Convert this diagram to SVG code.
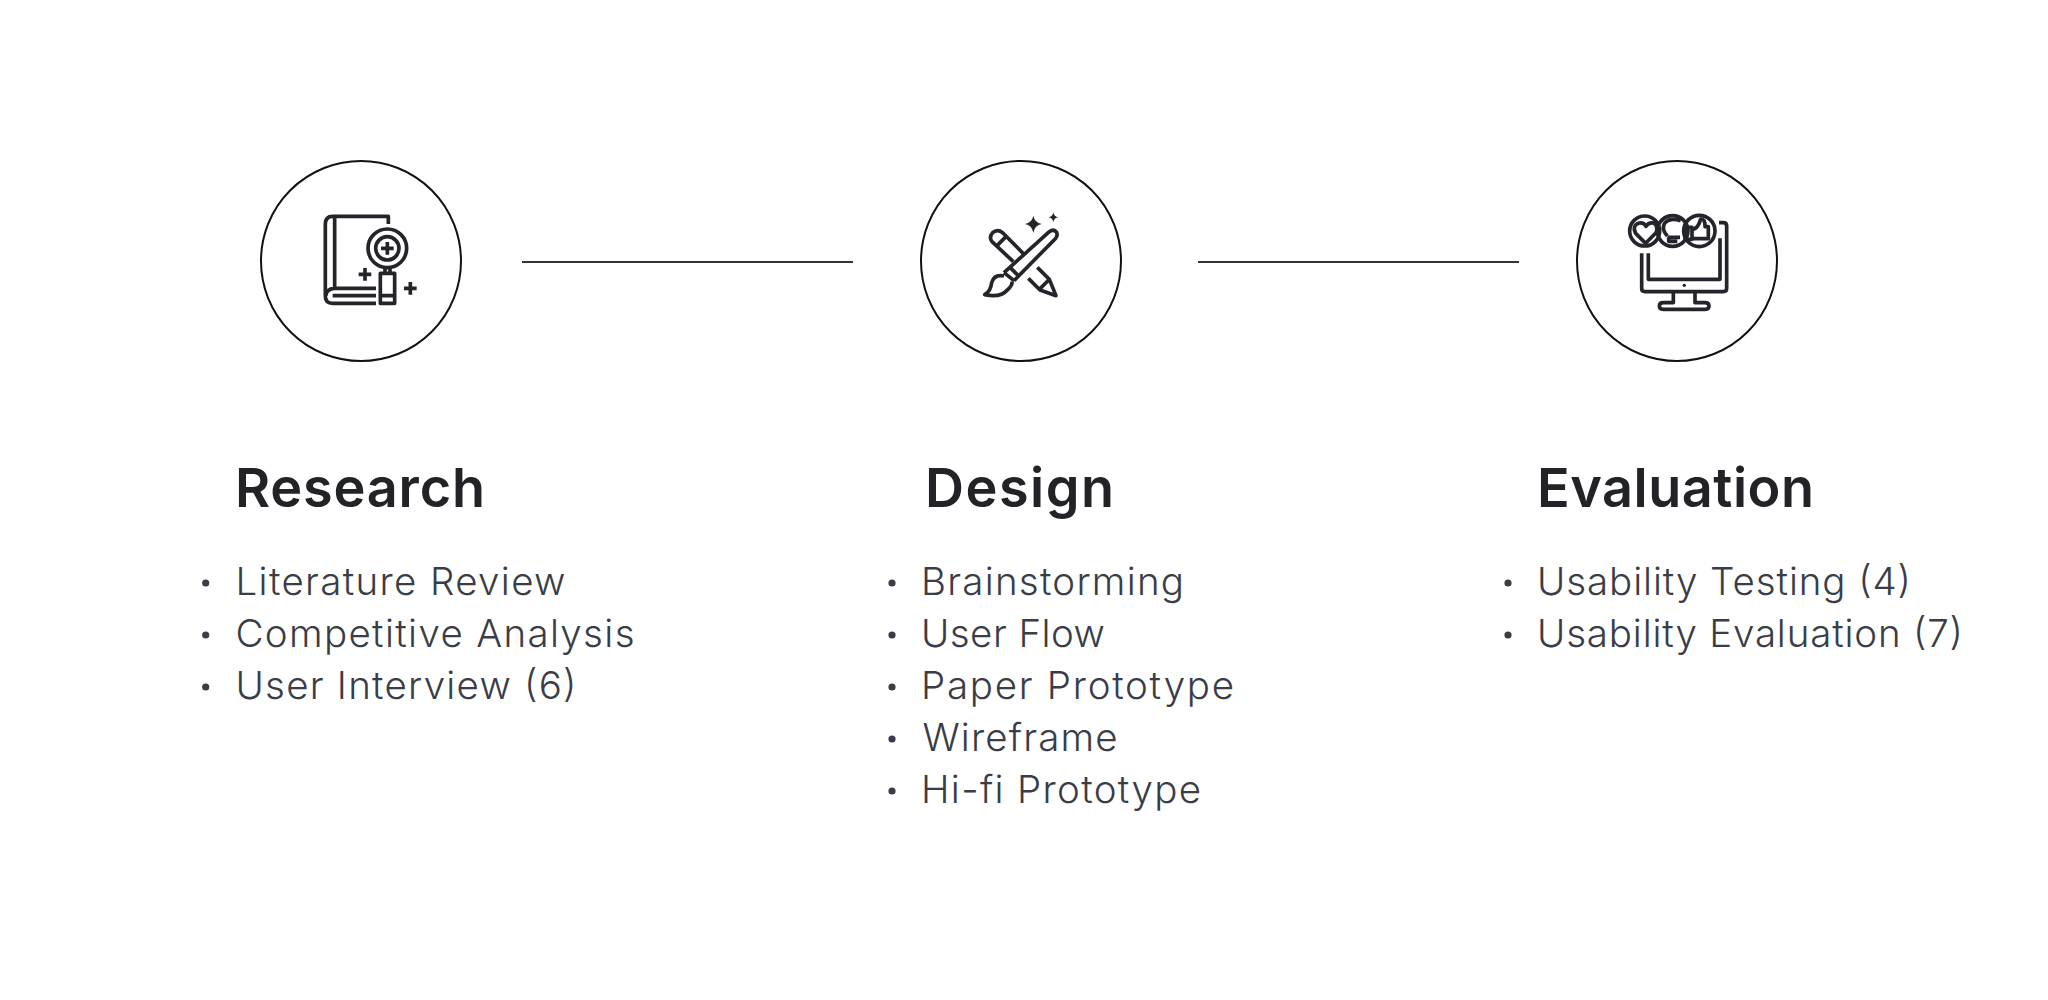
<svg xmlns="http://www.w3.org/2000/svg" width="2048" height="1000" viewBox="0 0 2048 1000">
<style>
.ring{fill:#fff;stroke:#111;stroke-width:2}
.ic{fill:none;stroke:#23252a;stroke-width:11;stroke-linejoin:round}
.icf{fill:#23252a;stroke:none}
.h{font-family:"Inter","Liberation Sans",sans-serif;font-weight:600;font-size:54px;fill:#212327}
.b{font-family:"Inter","Liberation Sans",sans-serif;font-weight:300;font-size:38.5px;fill:#3a3d46}
.dot{fill:#3a3d46}
.conn{stroke:#333338;stroke-width:2;fill:none}
</style>
<rect width="2048" height="1000" fill="#fff"/>
<g id="connectors">
<line class="conn" x1="522" y1="262" x2="853" y2="262"/>
<line class="conn" x1="1198" y1="262" x2="1519" y2="262"/>
</g>
<g id="research">
<circle class="ring" cx="361" cy="261" r="100"/>
<g transform="translate(250 150) scale(.33333)">
<path class="ic" d="M415 222V199H248Q226 199 226 222V438Q226 460 248 460H378M254 199V415M378 415H254Q228 417 228 437M378 437H248"/>
<circle class="ic" cx="412" cy="295" r="58"/>
<circle class="ic" cx="412" cy="295" r="35"/>
<path class="ic" d="M412 276V314M393 295H431M345 354V392M326 373H364M481 396V434M462 415H500"/>
<path class="ic" d="M405 352V372M420 352V372M391 370H434V460H391ZM391 437H434"/>
</g>
<text class="h" x="235" y="507" textLength="250">Research</text>
<circle class="dot" cx="205.7" cy="583" r="3.6"/><circle class="dot" cx="205.7" cy="635" r="3.6"/><circle class="dot" cx="205.7" cy="687" r="3.6"/>
<text class="b" x="235.5" y="595" textLength="330">Literature Review</text>
<text class="b" x="235.5" y="647" textLength="399">Competitive Analysis</text>
<text class="b" x="235.5" y="699" textLength="341">User Interview (6)</text>
</g>
<g id="design">
<circle class="ring" cx="1021" cy="261" r="100"/>
<g transform="translate(910 150) scale(.33333)">
<path class="ic" d="M282 368L418 245Q430 236 439 246Q445 256 436 266L312 392M282 368L312 392M300 352L328 380"/>
<path class="ic" d="M282 378Q252 372 245 398Q242 424 224 434Q272 444 292 420Q308 406 306 394"/>
<path class="ic" d="M345 316L278 248Q262 236 248 248Q236 262 246 275L310 335M258 290L288 260"/>
<path class="ic" d="M382 352L418 388L438 437L390 420L355 385M388 418L416 390"/>
<path class="icf" d="M370 197Q374 218 395 222Q374 226 370 248Q366 226 345 222Q366 218 370 197ZM430 187Q432 200 445 202Q432 204 430 217Q428 204 415 202Q428 200 430 187Z"/>
</g>
<text class="h" x="925" y="507" textLength="189">Design</text>
<circle class="dot" cx="892" cy="583" r="3.6"/><circle class="dot" cx="892" cy="635" r="3.6"/><circle class="dot" cx="892" cy="687" r="3.6"/><circle class="dot" cx="892" cy="739" r="3.6"/><circle class="dot" cx="892" cy="791" r="3.6"/>
<text class="b" x="921" y="595" textLength="263">Brainstorming</text>
<text class="b" x="921" y="647" textLength="184">User Flow</text>
<text class="b" x="921" y="699" textLength="313">Paper Prototype</text>
<text class="b" x="922.5" y="751" textLength="195">Wireframe</text>
<text class="b" x="921" y="803" textLength="280">Hi-fi Prototype</text>
</g>
<g id="evaluation">
<circle class="ring" cx="1677" cy="261" r="100"/>
<g transform="translate(1570 150) scale(.33333)">
<circle class="ic" cx="224" cy="243" r="45"/>
<circle class="ic" cx="308" cy="243" r="46"/>
<circle class="ic" cx="388" cy="243" r="47"/>
<path class="ic" d="M227 280L197 250Q185 226 208 219Q222 217 228 229Q236 216 250 219Q266 226 258 248Z"/>
<path class="ic" d="M292 258Q272 236 285 218Q300 202 332 212M293 262H330M296 262V274H322"/>
<path class="ic" d="M346 232H366V268H346ZM366 240Q386 234 392 207Q406 206 405 230H415V266H366"/>
<path class="ic" d="M447 218H460Q470 218 470 228V415Q470 425 460 425H225Q215 425 215 415V310M235 310V388H450V265M310 428V458H280Q268 458 268 468Q268 478 280 478H405Q417 478 417 468Q417 458 405 458H375V428"/>
<circle class="icf" cx="343" cy="406" r="5"/>
</g>
<text class="h" x="1537" y="507" textLength="277">Evaluation</text>
<circle class="dot" cx="1508" cy="583" r="3.6"/><circle class="dot" cx="1508" cy="635" r="3.6"/>
<text class="b" x="1537" y="595" textLength="374">Usability Testing (4)</text>
<text class="b" x="1537" y="647" textLength="426">Usability Evaluation (7)</text>
</g>
</svg>
